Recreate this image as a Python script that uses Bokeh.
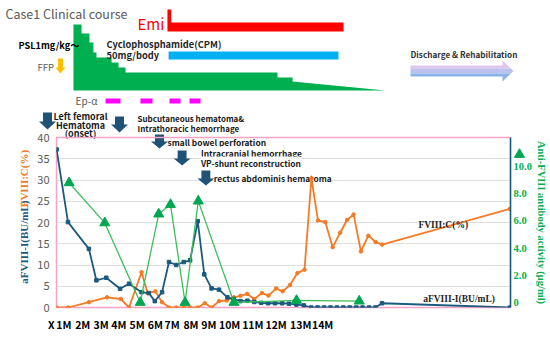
import math
from bokeh.plotting import figure
from bokeh.layouts import row
from bokeh.models import (Range1d, LinearAxis, FixedTicker, CustomJSTickFormatter, GridBox)
from bokeh.core.properties import value
from bokeh.embed import file_html
from bokeh.resources import INLINE

# ---------------- data (t = time after onset, months) ----------------
tick_pos = [0.636, 1.03, 2.04, 3.02, 3.97, 4.95, 5.93, 6.83, 7.84, 8.80,
            9.91, 11.15, 12.40, 13.72, 14.89]
tick_labels = ["X\u2002\u2002", "1M", "2M", "3M", "4M", "5M", "6M", "7M", "8M", "9M",
               "10M", "11M", "12M", "13M", "14M"]

inh_t = [0.64, 1.25, 2.37, 2.77, 3.30, 4.04, 4.52, 5.19, 5.58, 5.90,
         6.29, 6.66, 7.05, 7.45, 7.79, 8.20, 8.55, 8.94, 9.34, 9.79,
         10.12, 10.49, 10.86, 11.23, 11.60, 11.97, 12.34, 12.72, 13.09, 13.48,
         13.88, 14.28, 14.62, 14.97, 15.31, 15.66, 16.00, 16.34, 16.69, 17.03,
         17.38, 17.72, 18.07, 24.93]
inh_bu = [37.2, 20.1, 13.8, 6.4, 7.0, 4.4, 5.6, 3.6, 3.4, 1.5,
          3.6, 10.7, 10.0, 10.7, 11.1, 20.3, 7.8, 4.5, 4.2, 2.4,
          2.0, 1.5, 1.6, 1.3, 1.1, 1.0, 1.0, 1.0, 0.9, 0.7,
          0.5, 0.0, 0.0, 0.0, 0.0, 0.0, 0.0, 0.0, 0.0, 0.0,
          0.0, 0.0, 1.0, 0.0]

fviii_t = [0.64, 1.26, 2.37, 3.34, 4.08, 4.52, 5.19, 5.51, 5.93, 6.29,
           6.66, 7.05, 7.45, 7.79, 8.20, 8.58, 8.95, 9.34, 9.75, 10.14,
           10.49, 10.85, 11.23, 11.64, 11.99, 12.40, 12.75, 13.14, 13.54, 13.92,
           14.29, 14.64, 15.03, 15.43, 15.83, 16.20, 16.55, 16.94, 17.34, 17.73,
           18.08, 24.92]
fviii_c = [0, 0, 1.25, 2.4, 2.0, 0, 8.3, 3.4, 3.8, 1.25,
           0, 0, 0, 0, 0, 1.0, 0, 1.5, 1.65, 2.4,
           2.75, 3.2, 2.0, 3.4, 2.8, 4.5, 3.8, 5.3, 8.1, 8.9,
           30.4, 20.5, 20.1, 14.2, 17.6, 20.6, 21.9, 13.2, 16.9, 15.4,
           14.8, 23.2]

ab_t = [1.31, 3.22, 5.12, 6.11, 6.74, 7.52, 8.23, 10.14, 13.49, 16.85]
ab_act = [8.8, 5.85, 0.0, 6.5, 7.2, 0.0, 7.45, 0.0, 0.15, 0.1]

# treatment schedule (t units)
psl_t = [1.64, 2.07, 2.49, 2.70, 2.86, 3.66, 4.03, 4.40, 12.45, 13.25, 18.17]
psl_dose = [1.0, 0.864, 0.727, 0.576, 0.5, 0.424, 0.348, 0.273, 0.197, 0.136, 0.0]
emi_start, emi_end = 6.62, 15.95
cpm_start, cpm_end = 6.68, 15.68
ep_start = [3.34, 5.19, 6.73, 7.79]
ep_end = [4.13, 5.83, 7.31, 8.37]

# ---------------- layout helpers (page pixel grid) ----------------
PX0, PXS = 42.0, 18.875          # page x = PX0 + PXS * t


def t_of(px):
    return (px - PX0) / PXS


def dose_of(py):                 # PSL band: dose 0 at y=90, dose 1 at y=24
    return (90.0 - py) / 66.0


BLUE = "#1b5a7e"
ORANGE = "#f47a25"
GREEN_L = "#3cbf5a"
GREEN = "#00a650"
AX_GREEN = "#00b050"
GRAY = "#595959"
ARROW = "#1e5276"
SANS = "Noto Sans CJK JP"
SERIF = "Liberation Serif"


def txt(fig, x, y, s, size, color="#1a1a1a", style="normal", font=SANS,
        align="left", angle=0.0, xr="default", yr="default", bg=None):
    kw = {}
    if bg is not None:
        kw["background_fill_color"] = bg
    fig.text(x=[x], y=[y], text=[s], x_range_name=xr, y_range_name=yr,
             text_font=value(font), text_font_size=value(size), text_color=color,
             text_font_style=style, text_align=align, text_baseline="middle",
             angle=angle, **kw)


def poly(fig, xs, ys, color, xr="default", yr="default"):
    fig.patch(xs, ys, x_range_name=xr, y_range_name=yr, fill_color=color,
              fill_alpha=1.0, line_color=None)


def down_arrow(fig, cx, y0, y1, sw, hw, hh, color, xr="default", yr="default"):
    poly(fig, [cx - sw, cx + sw, cx + sw, cx + hw, cx, cx - hw, cx - sw],
         [y0, y0, y1 - hh, y1 - hh, y1, y1 - hh, y1 - hh], color, xr, yr)


W, H = 549, 336
FR_L, FR_R, FR_T, FR_B = 54, 513, 137, 307   # chart frame edges (page px)
LEFT_W = 34
ROW_A, ROW_B, ROW_C = 129, 61, 146            # grid rows (px)
TOP_H = ROW_A + ROW_B                         # treatment panel height (overlaps chart)
BOT_H = ROW_B + ROW_C                         # chart panel height

# ================= top: treatment course + events =================
top = figure(width=W, height=TOP_H, x_range=Range1d(0, W), y_range=Range1d(TOP_H, 0),
             x_axis_type=None, y_axis_type=None, toolbar_location=None,
             output_backend="svg", min_border=0, title=None)
top.outline_line_color = None
top.background_fill_color = "white"
top.border_fill_color = "white"
top.extra_x_ranges = {"t": Range1d(t_of(0), t_of(W))}
top.extra_y_ranges = {"psl": Range1d(dose_of(TOP_H), dose_of(0))}

# PSL taper
pxs, pys = [psl_t[0]], [0.0]
for i in range(len(psl_t) - 1):
    last = (i == len(psl_t) - 2)
    pxs += [psl_t[i], psl_t[i + 1]]
    pys += [psl_dose[i], psl_dose[i + 1] if last else psl_dose[i]]
poly(top, pxs, pys, "#00b050", xr="t", yr="psl")

# Emicizumab (L shape)
tw = 0.2
poly(top, [emi_start, emi_start + tw, emi_start + tw, emi_end, emi_end, emi_start],
     [9, 9, 22, 22, 31, 31], "#ff0000", xr="t")
# Cyclophosphamide
poly(top, [cpm_start, cpm_end, cpm_end, cpm_start], [51, 51, 59, 59], "#00b0f0", xr="t")
# Ep-alpha
for s, e in zip(ep_start, ep_end):
    poly(top, [s, e, e, s], [98, 98, 103, 103], "#ff00ff", xr="t")

txt(top, 5, 13, "Case1 Clinical course", "12.5px", color=GRAY)
txt(top, 137, 23, "Emi", "15px", color="#ff0000")
txt(top, 18, 44, "PSL1mg/kg～", "9.2px", style="bold", color="black")
txt(top, 106, 43, "Cyclophosphamide(CPM)", "9.3px", style="bold", color="#262626")
txt(top, 106, 54, "50mg/body", "9.3px", style="bold", color="#262626")
txt(top, 37, 66, "FFP", "9.5px", color=GRAY)
down_arrow(top, 60, 58, 73, 2.5, 5, 6, "#ffc000")
txt(top, 75, 100, "Ep-α", "10px", color=GRAY)

# discharge arrow (banded to imitate gradient)
poly(top, [410, 502, 502, 510.4, 410], [65, 65, 60, 68, 68], "#e0c6ee")
poly(top, [410, 510.4, 513, 510.4, 410], [68, 68, 70.5, 73, 73], "#bcc0ec")
poly(top, [410, 510.4, 502, 502, 410], [73, 73, 81, 76, 76], "#8cb3e8")
txt(top, 410, 53, "Discharge & Rehabilitation", "8.2px", style="bold", color="#333333")

# clinical events above / at the chart top
down_arrow(top, 47, 112, 129, 4.5, 8.5, 8, ARROW)
down_arrow(top, 119, 116, 132, 4.5, 8.5, 8, ARROW)
down_arrow(top, 159, 134, 148, 4.5, 8.5, 7, ARROW)
txt(top, 80, 115.5, "Left femoral", "9px", style="bold", align="center")
txt(top, 80, 124.5, "Hematoma", "9px", style="bold", align="center")
txt(top, 80, 132.5, "(onset)", "9px", style="bold", align="center")
txt(top, 137, 118, "Subcutaneous hematoma&", "8px", style="bold")
txt(top, 137, 127.5, "Intrathoracic hemorrhage", "8px", style="bold")
txt(top, 167, 141, "small bowel perforation", "8.4px", style="bold")

# series key marker beside the right axis title
top.scatter([519], [154], marker="triangle", size=10, color=GREEN)

# ================= left strip: left axis titles =================
left = figure(width=LEFT_W, height=BOT_H, x_range=Range1d(0, LEFT_W),
              y_range=Range1d(H, ROW_A), x_axis_type=None, y_axis_type=None,
              toolbar_location=None, output_backend="svg", min_border=0, title=None)
left.outline_line_color = None
left.background_fill_color = None
left.border_fill_color = None
txt(left, 23, 307, "aFVIII-I(BU/mL)", "11px", color=BLUE, style="bold", font=SERIF,
    align="left", angle=math.pi / 2)
txt(left, 23, 214, "FVIII:C(%)", "11px", color=ORANGE, style="bold", font=SERIF,
    align="left", angle=math.pi / 2)

# ================= main chart =================
p = figure(width=W - LEFT_W, height=BOT_H, output_backend="svg", toolbar_location=None,
           title=None, x_range=Range1d(t_of(FR_L) - 0.001, t_of(FR_R)),
           y_range=Range1d(0, 40), min_border_left=FR_L - LEFT_W, min_border_right=W - FR_R,
           min_border_top=FR_T - ROW_A, min_border_bottom=H - FR_B)
p.extra_y_ranges = {"ab": Range1d(-0.37, 12.13), "page": Range1d(FR_B, FR_T)}
p.extra_x_ranges = {"px": Range1d(FR_L, FR_R)}
p.outline_line_color = "#f5a3c7"
p.outline_line_width = 1.5
p.background_fill_color = None
p.border_fill_color = None
p.xgrid.visible = False
p.ygrid.ticker = FixedTicker(ticks=[5, 10, 15, 20, 25, 30, 35])
p.ygrid.grid_line_color = "#dedede"

ya = p.yaxis[0]
ya.ticker = FixedTicker(ticks=[0, 5, 10, 15, 20, 25, 30, 35, 40])
ya.axis_line_color = None
ya.major_tick_line_color = None
ya.minor_tick_line_color = None
ya.major_tick_out = 0
ya.major_tick_in = 0
ya.major_label_text_font = SANS
ya.major_label_text_font_size = "11px"
ya.major_label_text_color = GRAY
ya.major_label_standoff = 7

xa = p.xaxis[0]
xa.ticker = FixedTicker(ticks=tick_pos)
xa.formatter = CustomJSTickFormatter(args=dict(pos=tick_pos, lab=tick_labels), code="""
let b = 0;
for (let i = 0; i < pos.length; i++) { if (Math.abs(pos[i] - tick) < Math.abs(pos[b] - tick)) b = i; }
return lab[b];
""")
xa.axis_line_color = None
xa.major_tick_line_color = None
xa.minor_tick_line_color = None
xa.major_tick_out = 0
xa.major_tick_in = 0
xa.major_label_text_font = SANS
xa.major_label_text_font_style = "bold"
xa.major_label_text_font_size = "10.5px"
xa.major_label_text_color = "black"
xa.major_label_standoff = 9

ra = LinearAxis(y_range_name="ab", ticker=FixedTicker(ticks=[0, 2, 4, 6, 8, 10]),
                formatter=CustomJSTickFormatter(code="return tick == 0 ? '0' : tick.toFixed(1);"))
ra.axis_line_color = BLUE
ra.axis_line_width = 1.5
ra.major_tick_line_color = None
ra.minor_tick_line_color = None
ra.major_tick_out = 0
ra.major_tick_in = 0
ra.major_label_text_font = SERIF
ra.major_label_text_font_style = "bold"
ra.major_label_text_font_size = "10.5px"
ra.major_label_text_color = AX_GREEN
ra.major_label_standoff = 3
ra.axis_label = "Anti-FVIII antibody activity (μg/ml)"
ra.axis_label_text_font = SERIF
ra.axis_label_text_font_style = "bold"
ra.axis_label_text_font_size = "10.5px"
ra.axis_label_text_color = AX_GREEN
ra.axis_label_standoff = 1
p.add_layout(ra, "right")

# event notes inside the chart (white boxes hide the grid, data drawn on top)
txt(p, 200, 152, "Intracranial hemorrhage", "8.4px", style="bold", xr="px", yr="page", bg="white")
txt(p, 200, 162, "VP-shunt reconstruction", "8.4px", style="bold", xr="px", yr="page", bg="white")
txt(p, 213, 177, "rectus abdominis hematoma", "8.4px", style="bold", xr="px", yr="page", bg="white")
down_arrow(p, 181, 150, 165, 4.5, 8.5, 7, ARROW, "px", "page")
down_arrow(p, 205, 170, 185, 4.5, 8.5, 7, ARROW, "px", "page")

p.line(fviii_t, fviii_c, line_color=ORANGE, line_width=1.8)
p.scatter(fviii_t, fviii_c, marker="circle", size=3.5, color=ORANGE)
p.line(inh_t, inh_bu, line_color=BLUE, line_width=1.8)
p.scatter(inh_t, inh_bu, marker="square", size=3.5, color=BLUE)
p.line(ab_t, ab_act, y_range_name="ab", line_color=GREEN_L, line_width=1.3)
p.scatter(ab_t, ab_act, y_range_name="ab", marker="triangle", size=10, color=GREEN)

txt(p, 445, 224, "FVIII:C(%)", "9.5px", color="#262626", style="bold", font=SERIF,
    align="center", xr="px", yr="page")
txt(p, 461, 298, "aFVIII-I(BU/mL)", "9.5px", color="#262626", style="bold", font=SERIF,
    align="center", xr="px", yr="page")

bottom = row(left, p)
layout = GridBox(children=[(top, 0, 0, 2, 1), (bottom, 1, 0, 2, 1)],
                 rows=[f"{ROW_A}px", f"{ROW_B}px", f"{ROW_C}px"], cols=[f"{W}px"])
open("out.html", "w").write(file_html(layout, INLINE))
